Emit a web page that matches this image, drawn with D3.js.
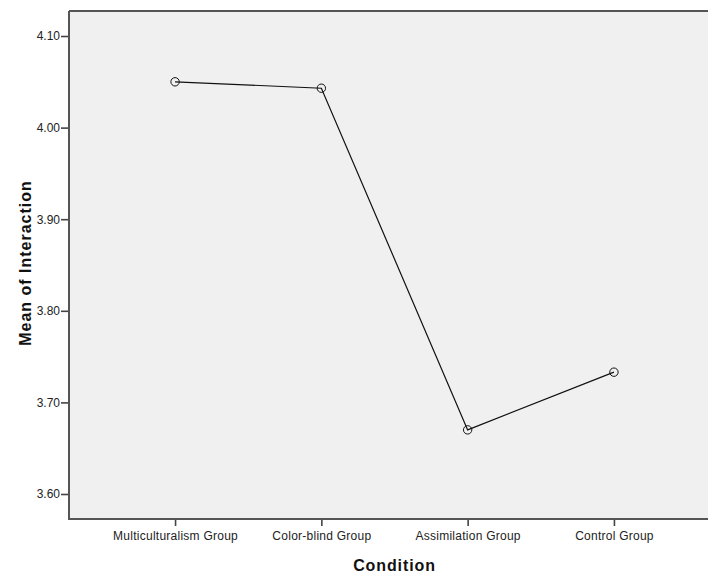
<!DOCTYPE html>
<html><head><meta charset="utf-8">
<script src="https://cdn.jsdelivr.net/npm/d3@7"></script>
<style>body{margin:0;background:#fff}svg{display:block}text{font-family:"Liberation Sans",Arial,sans-serif}</style>
</head><body>
<svg id="c" width="708" height="575"></svg>
<script>
const categories = ["Multiculturalism Group","Color-blind Group","Assimilation Group","Control Group"];
const means = [4.050, 4.043, 3.670, 3.733];
const yTicks = [3.60, 3.70, 3.80, 3.90, 4.00, 4.10];

const svg = d3.select("#c");
const L = 69, T = 11, R = 720, B = 519;
const x = d3.scalePoint().domain(categories).range([L, R]).padding(0.725);
const y = d3.scaleLinear().domain([3.5727, 4.1273]).range([B, T]);

svg.append("rect").attr("x", L).attr("y", T).attr("width", R - L).attr("height", B - T).attr("fill", "#f0f0f0");

const gy = svg.append("g").attr("transform", `translate(${L},0)`)
  .call(d3.axisLeft(y).tickValues(yTicks).tickFormat(d3.format(".2f")).tickSize(8).tickSizeOuter(0));
const gx = svg.append("g").attr("transform", `translate(0,${B})`)
  .call(d3.axisBottom(x).tickSize(7).tickSizeOuter(0));
[gy, gx].forEach(g => {
  g.select(".domain").remove();
  g.selectAll(".tick line").attr("stroke", "#444").attr("stroke-width", 1.6);
  g.selectAll(".tick text").attr("font-size", 12).attr("fill", "#222")
    .style("font-family", '"Liberation Sans",Arial,sans-serif');
});
gy.selectAll(".tick text").attr("x", -9);
gx.selectAll(".tick text").attr("y", 12.5).style("letter-spacing", "0.25px");

// frame
svg.append("path").attr("d", `M${L},${T}H${R}M${L},${T}V${B}H${R}`)
  .attr("fill", "none").attr("stroke", "#555").attr("stroke-width", 2);

const data = categories.map((c, i) => ({c, v: means[i]}));
svg.append("path").datum(data)
  .attr("d", d3.line().x(d => x(d.c)).y(d => y(d.v)))
  .attr("fill", "none").attr("stroke", "#111").attr("stroke-width", 1.2);
svg.selectAll("circle.p").data(data).join("circle").attr("class", "p")
  .attr("cx", d => x(d.c)).attr("cy", d => y(d.v)).attr("r", 4.2)
  .attr("fill", "none").attr("stroke", "#111").attr("stroke-width", 1);

svg.append("text").attr("x", (L + R) / 2).attr("y", 571).attr("text-anchor", "middle")
  .attr("font-size", 16).attr("font-weight", "bold").attr("fill", "#111")
  .style("letter-spacing", "0.9px").text("Condition");
svg.append("text").attr("transform", `translate(31,${(T + B) / 2 - 2}) rotate(-90)`).attr("text-anchor", "middle")
  .attr("font-size", 16).attr("font-weight", "bold").attr("fill", "#111")
  .style("letter-spacing", "1px").text("Mean of Interaction");
</script>
</body></html>
